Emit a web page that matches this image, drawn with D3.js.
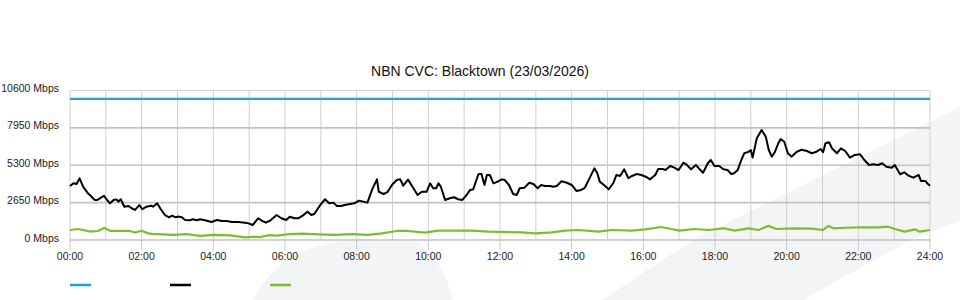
<!doctype html>
<html>
  <head>
    <style>
      body { margin: 0; background: #fff; font-family: 'Liberation Sans', Arial, sans-serif; }
      .grid line { shape-rendering: auto; }
    </style>
    <script src="https://d3js.org/d3.v7.min.js"></script>
  </head>
  <body>
    <svg id="chart" width="960" height="300"></svg>
    <script>
      // y axis ticks (Mbps) and x axis ticks (minutes since midnight)
      var yTicks = [0, 2650, 5300, 7950, 10600];
      var xTicks = [0, 120, 240, 360, 480, 600, 720, 840, 960, 1080, 1200, 1320, 1440];
      var xTickLabels = ["00:00","02:00","04:00","06:00","08:00","10:00","12:00","14:00","16:00","18:00","20:00","22:00","24:00"];

      // capacity (blue)
      var capTimes = [0, 1440];
      var capValues = [10000, 10000];

      // total traffic (black), minutes / Mbps
      var usageTimes = [0,6,11,16,22,30,35,41,46,52,57,61,67,73,78,81,85,91,98,103,109,116,121,128,136,139,146,152,159,166,171,177,181,187,193,201,206,212,218,226,237,246,254,262,271,282,293,299,306,315,321,328,335,346,354,362,368,376,382,391,398,404,409,419,427,434,441,447,454,460,469,476,484,491,498,506,514,517,525,532,539,547,553,558,566,575,582,589,597,603,608,613,617,621,628,636,643,650,657,664,670,675,684,689,694,698,703,709,716,723,728,735,742,748,753,761,769,776,783,789,795,804,809,815,823,832,840,848,856,862,869,878,883,887,896,902,910,915,921,928,935,941,949,957,966,971,980,985,992,997,1005,1012,1019,1027,1033,1040,1048,1053,1060,1068,1073,1079,1087,1094,1101,1107,1112,1118,1124,1129,1136,1140,1143,1150,1158,1165,1170,1175,1180,1186,1190,1196,1202,1208,1217,1225,1234,1242,1250,1257,1261,1265,1271,1276,1284,1291,1298,1306,1314,1323,1330,1338,1345,1353,1360,1367,1376,1381,1390,1397,1404,1412,1421,1425,1432,1437,1440];
      var usageValues = [3830,4020,3970,4370,3780,3310,3120,2840,2840,3000,3140,2890,2600,2840,2880,2720,2890,2360,2410,2250,2130,2480,2180,2360,2430,2360,2600,2180,1770,1610,1730,1610,1660,1610,1420,1400,1470,1400,1470,1400,1280,1420,1350,1350,1280,1280,1230,1180,1060,1540,1370,1230,1370,1770,1540,1420,1650,1540,1540,1770,2010,1770,1840,2480,2890,2600,2650,2410,2410,2480,2550,2600,2790,2720,2650,3590,4300,3420,3260,3420,3900,4250,4300,3850,4280,3670,3190,3420,3420,4020,3670,3670,4020,3780,2840,2960,3030,2890,2840,3190,3550,3590,4680,4680,3900,4610,4610,4020,4140,4300,4250,3900,3260,3190,3670,3710,4060,3970,3670,3900,3830,3830,3780,3830,4160,4060,3900,3480,3550,3700,4300,5080,4730,4140,3830,3590,4060,4610,4540,5010,4380,4540,4680,4610,4450,4300,4610,5040,5040,4960,5250,5130,4960,5480,5320,5010,5320,5080,4770,5440,5670,5250,5250,5010,4960,4680,4730,4960,5670,6150,6250,6380,5850,7210,7800,7330,6380,5910,6220,6860,7160,6970,6150,5910,6260,6400,6310,6150,6260,6450,6220,6860,6930,6500,6150,6500,6310,5840,6030,6080,5670,5320,5370,5320,5440,5200,5130,5320,4660,4800,4560,4420,4610,4180,4180,3950,3850];

      // lower series (green)
      var lowTimes = [0,14,33,47,57,67,100,109,120,131,137,173,195,218,240,268,293,307,318,332,346,363,388,416,444,472,499,522,547,566,594,617,673,700,756,779,807,829,851,885,907,941,963,990,1007,1021,1046,1069,1094,1113,1136,1153,1169,1183,1214,1242,1261,1270,1278,1298,1326,1353,1370,1381,1398,1415,1423,1440];
      var lowValues = [710,780,600,640,860,650,640,530,660,470,430,370,420,290,360,330,190,230,200,340,310,400,450,400,360,420,360,470,640,640,520,660,660,590,545,470,545,660,710,590,710,660,755,920,780,660,780,710,830,660,830,710,1000,780,830,800,710,1000,830,870,900,900,945,780,590,755,590,709];

      var svg = d3.select("#chart");

      // faint background watermark
      svg.append("path")
        .attr("d", "M253,300 C268,270 295,246 345,241 L415,240 C430,250 446,270 453,300 Z")
        .attr("fill", "#f3f4f6");
      svg.append("path")
        .attr("d", "M602,300 L693,240 L960,107 L960,221 L910,240 L803,300 Z")
        .attr("fill", "#f3f4f6");

      var x = d3.scaleLinear().domain([0, 1440]).range([70, 930]);
      var y = d3.scaleLinear().domain([0, 10600]).range([240, 90.5]);

      // hourly vertical grid
      var g = svg.append("g").attr("class", "grid");
      g.selectAll(".vgrid")
        .data(d3.range(0, 1441, 60))
        .enter().append("line")
        .attr("x1", function(d){return x(d);})
        .attr("x2", function(d){return x(d);})
        .attr("y1", y(10600))
        .attr("y2", y(0))
        .attr("stroke", "#cfcfcf")
        .attr("stroke-width", 1);

      g.selectAll(".hgrid")
        .data(yTicks)
        .enter().append("line")
        .attr("x1", 70)
        .attr("x2", 930)
        .attr("y1", function(d){return y(d);})
        .attr("y2", function(d){return y(d);})
        .attr("stroke", function(d){return d == 10600 ? "#d6d6d6" : "#c2c2c2";})
        .attr("stroke-width", function(d){return d == 10600 ? 1 : 1.6;});

      // x ticks + labels
      var xa = svg.append("g");
      xa.selectAll("line")
        .data(xTicks)
        .enter().append("line")
        .attr("x1", function(d){return x(d);})
        .attr("x2", function(d){return x(d);})
        .attr("y1", 240)
        .attr("y2", 250)
        .attr("stroke", "#c8c8c8");
      xa.selectAll("text")
        .data(xTicks)
        .enter().append("text")
        .attr("x", function(d){return x(d);})
        .attr("y", 260)
        .attr("text-anchor", "middle")
        .attr("font-size", "10.5px")
        .attr("fill", "#222")
        .text(function(d, i){return xTickLabels[i];});

      // y labels
      svg.append("g").selectAll("text")
        .data(yTicks)
        .enter().append("text")
        .attr("x", 59)
        .attr("y", function(d){return y(d) + 1.5;})
        .attr("text-anchor", "end")
        .attr("font-size", "10.5px")
        .attr("fill", "#222")
        .text(function(d){return d + " Mbps";});

      // title
      svg.append("text")
        .attr("x", 480)
        .attr("y", 76)
        .attr("text-anchor", "middle")
        .attr("font-size", "14px")
        .attr("fill", "#111")
        .text("NBN CVC: Blacktown (23/03/2026)");

      function drawSeries(times, values, color, width) {
        var pts = times.map(function(t, i){ return [t, values[i]]; });
        svg.append("path")
          .datum(pts)
          .attr("fill", "none")
          .attr("stroke", color)
          .attr("stroke-width", width)
          .attr("stroke-linejoin", "round")
          .attr("d", d3.line()
            .x(function(d){return x(d[0]);})
            .y(function(d){return y(d[1]);}));
      }

      drawSeries(lowTimes, lowValues, "#7cbd2c", 2.2);
      drawSeries(usageTimes, usageValues, "#000", 2);
      drawSeries(capTimes, capValues, "#1ca3de", 2.2);

      // legend (swatches only)
      var legendColors = ["#1ca3de", "#000", "#7cbd2c"];
      svg.append("g").selectAll("line")
        .data(legendColors)
        .enter().append("line")
        .attr("x1", function(d, i){return 70 + i * 100;})
        .attr("x2", function(d, i){return 91 + i * 100;})
        .attr("y1", 285)
        .attr("y2", 285)
        .attr("stroke", function(d){return d;})
        .attr("stroke-width", 2.5);
    </script>
  </body>
</html>
